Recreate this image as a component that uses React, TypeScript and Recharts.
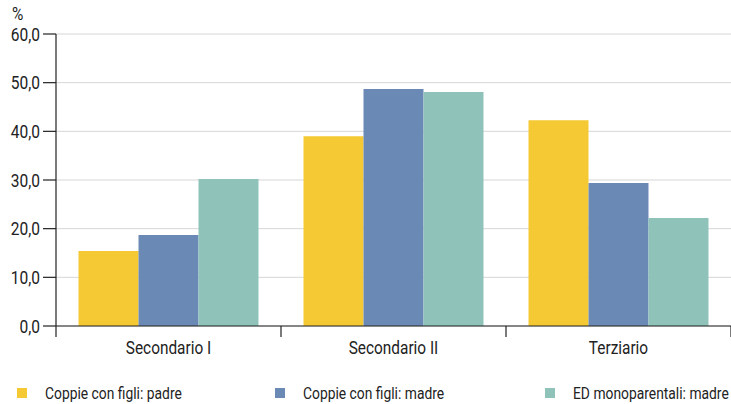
import React from 'react';
import { BarChart, Bar, XAxis, YAxis, CartesianGrid } from 'recharts';

const categories = ['Secondario I', 'Secondario II', 'Terziario'];
const padre = [15.4, 39.0, 42.3];
const madre = [18.7, 48.7, 29.4];
const edMadre = [30.2, 48.1, 22.2];
const yTicks = [0, 10, 20, 30, 40, 50, 60];

const seriesInfo = [
  { key: 'padre', name: 'Coppie con figli: padre', color: '#F5C933' },
  { key: 'madre', name: 'Coppie con figli: madre', color: '#6A8AB5' },
  { key: 'edMadre', name: 'ED monoparentali: madre', color: '#8FC3BA' },
];

const data = categories.map((c, i) => ({
  name: c,
  idx: i + 0.5,
  padre: padre[i],
  madre: madre[i],
  edMadre: edMadre[i],
}));

const FONT = 'Roboto, "Liberation Sans", sans-serif';
const TEXT = '#222';

// narrow text, like the condensed face of the original
const YTick = ({ x, y, payload }: any) => (
  <g transform={`translate(${x},${y})`}>
    <text transform="scale(0.84,1)" textAnchor="end" dy="0.36em" fontSize={18.5} fill={TEXT} fontFamily={FONT}>
      {Number(payload.value).toFixed(1).replace('.', ',')}
    </text>
  </g>
);

const XTick = ({ x, y, payload }: any) => (
  <g transform={`translate(${x},${y})`}>
    <text transform="scale(0.88,1)" textAnchor="middle" dy="0.71em" fontSize={17.5} fill={TEXT} fontFamily={FONT}>
      {payload.value}
    </text>
  </g>
);

const LegendRow = () => {
  const xs = [17, 275, 545];
  return (
    <svg width={731} height={20} style={{ position: 'absolute', left: 0, top: 383 }}>
      {seriesInfo.map((s, i) => (
        <g key={s.key} transform={`translate(${xs[i]},0)`}>
          <rect x={0} y={5} width={10} height={10} fill={s.color} />
          <text
            x={0}
            y={0}
            transform="translate(28,10) scale(0.84,1)"
            dy="0.36em"
            fontSize={16.5}
            fill={TEXT}
            fontFamily={FONT}
          >
            {s.name}
          </text>
        </g>
      ))}
    </svg>
  );
};

const App: React.FC = () => {
  return (
    <div style={{ position: 'absolute', left: 0, top: 0, width: 731, height: 404, background: '#fff', fontFamily: FONT, overflow: 'hidden' }}>
      <div style={{ position: 'absolute', left: 12, top: 3, fontSize: 18, color: TEXT, transform: 'scaleX(0.86)', transformOrigin: 'left center' }}>%</div>
      <BarChart
        width={731}
        height={404}
        data={data}
        margin={{ top: 34, right: 0, bottom: 37, left: 0 }}
        barCategoryGap="10%"
        barGap={0}
      >
        <CartesianGrid vertical={false} stroke="#d6d6d6" strokeWidth={1} />
        <XAxis
          xAxisId="a_line"
          type="number"
          dataKey="idx"
          domain={[0, 3]}
          ticks={[0, 1, 2, 3]}
          height={1}
          tickSize={11}
          tickFormatter={() => ''}
          stroke="#222"
          axisLine={{ stroke: '#222', strokeWidth: 1.2 }}
          tickLine={{ stroke: '#222', strokeWidth: 1.2 }}
        />
        <XAxis
          xAxisId="b_cat"
          dataKey="name"
          height={40}
          axisLine={false}
          tickLine={false}
          tickSize={0}
          tickMargin={15}
          tick={<XTick />}
        />
        <YAxis
          width={56}
          domain={[0, 60]}
          ticks={yTicks}
          interval={0}
          tickSize={13}
          tickMargin={3}
          tick={<YTick />}
          axisLine={{ stroke: '#222', strokeWidth: 1.2 }}
          tickLine={{ stroke: '#222', strokeWidth: 1.2 }}
        />
        {seriesInfo.map((s) => (
          <Bar key={s.key} xAxisId="b_cat" dataKey={s.key} name={s.name} fill={s.color} isAnimationActive={false} />
        ))}
      </BarChart>
      <LegendRow />
    </div>
  );
};

export default App;
